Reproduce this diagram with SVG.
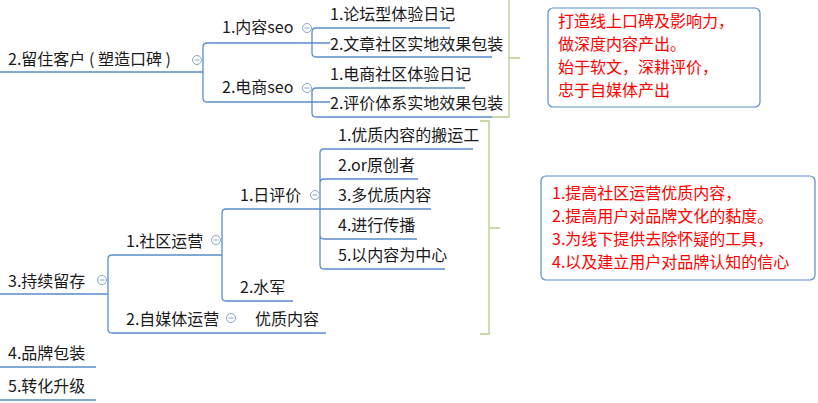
<svg xmlns="http://www.w3.org/2000/svg" width="818" height="403" viewBox="0 0 818 403">
<style>
text{font-family:"Microsoft YaHei","Noto Sans CJK SC",sans-serif;font-size:16px;fill:#1a1a1a}
.r{fill:#ff0000;font-size:16px}
.l{fill:none;stroke:#5b8ccc;stroke-width:1.3}
.g{fill:none;stroke:#b7cc8c;stroke-width:1.3}
.c{fill:#fff;stroke:#8aa6cc;stroke-width:1}
.m{stroke:#8aa6cc;stroke-width:1}
.box{fill:#fff;stroke:#5b8ccc;stroke-width:1.2}
</style>
<rect width="818" height="403" fill="#fff"/>
<g id="connectors">
<path class="l" d="M0 72H203 M203 72V47q0-4 4-4H330 M203 72V98q0 4 4 4H330"/>
<path class="l" d="M312 43V32q0-4 4-4H450 M312 43V53q0 4 4 4H492"/>
<path class="l" d="M312 102V92q0-4 4-4H465 M312 102V113q0 4 4 4H492"/>
<path class="l" d="M0 294H108 M108 294V259q0-4 4-4H222 M108 294V329q0 4 4 4H326"/>
<path class="l" d="M222 255V213q0-4 4-4H320 M222 255V297q0 4 4 4H293"/>
<path class="l" d="M320 209V153q0-4 4-4H473 M320 209V183q0-4 4-4H418 M320 209H431 M320 209V235q0 4 4 4H417 M320 209V265q0 4 4 4H445"/>
<path class="l" d="M0 367H96 M0 400H96"/>
<path class="g" d="M492 117H509V0 M509 58H520"/>
<path class="g" d="M480 121H489V334H480 M489 228H500"/>
</g>
<g id="collapse">
<circle class="c" cx="197" cy="60" r="4.5"/><path class="m" d="M194.5 60h5"/>
<circle class="c" cx="307" cy="28" r="4.5"/><path class="m" d="M304.5 28h5"/>
<circle class="c" cx="307" cy="88" r="4.5"/><path class="m" d="M304.5 88h5"/>
<circle class="c" cx="102" cy="280" r="4.5"/><path class="m" d="M99.5 280h5"/>
<circle class="c" cx="216" cy="240" r="4.5"/><path class="m" d="M213.5 240h5"/>
<circle class="c" cx="315" cy="195" r="4.5"/><path class="m" d="M312.5 195h5"/>
<circle class="c" cx="231" cy="318" r="4.5"/><path class="m" d="M228.5 318h5"/>
</g>
<g id="n1"><text x="8" y="65">2.留住客户 (  塑造口碑  )</text></g>
<g id="n2"><text x="222" y="33">1.内容seo</text></g>
<g id="n3"><text x="330" y="20">1.论坛型体验日记</text></g>
<g id="n4"><text x="330" y="50">2.文章社区实地效果包装</text></g>
<g id="n5"><text x="222" y="93">2.电商seo</text></g>
<g id="n6"><text x="330" y="80">1.电商社区体验日记</text></g>
<g id="n7"><text x="330" y="109">2.评价体系实地效果包装</text></g>
<g id="note1"><rect class="box" x="548" y="8" width="212" height="99" rx="5"/>
<text class="r" x="558" y="27">打造线上口碑及影响力，</text>
<text class="r" x="558" y="50">做深度内容产出。</text>
<text class="r" x="558" y="73">始于软文，深耕评价，</text>
<text class="r" x="558" y="96">忠于自媒体产出</text></g>
<g id="n8"><text x="8" y="287">3.持续留存</text></g>
<g id="n9"><text x="126" y="247">1.社区运营</text></g>
<g id="n10"><text x="240" y="201">1.日评价</text></g>
<g id="n11"><text x="338" y="141">1.优质内容的搬运工</text></g>
<g id="n12"><text x="338" y="171">2.or原创者</text></g>
<g id="n13"><text x="338" y="201">3.多优质内容</text></g>
<g id="n14"><text x="338" y="231">4.进行传播</text></g>
<g id="n15"><text x="338" y="261">5.以内容为中心</text></g>
<g id="n16"><text x="240" y="293">2.水军</text></g>
<g id="n17"><text x="126" y="325">2.自媒体运营</text></g>
<g id="n18"><text x="255" y="325">优质内容</text></g>
<g id="n19"><text x="8" y="359">4.品牌包装</text></g>
<g id="n20"><text x="8" y="392">5.转化升级</text></g>
<g id="note2"><rect class="box" x="541" y="176" width="274" height="104" rx="5"/>
<text class="r" x="552" y="199">1.提高社区运营优质内容，</text>
<text class="r" x="552" y="222">2.提高用户对品牌文化的黏度。</text>
<text class="r" x="552" y="245">3.为线下提供去除怀疑的工具，</text>
<text class="r" x="552" y="268">4.以及建立用户对品牌认知的信心</text></g>
</svg>
